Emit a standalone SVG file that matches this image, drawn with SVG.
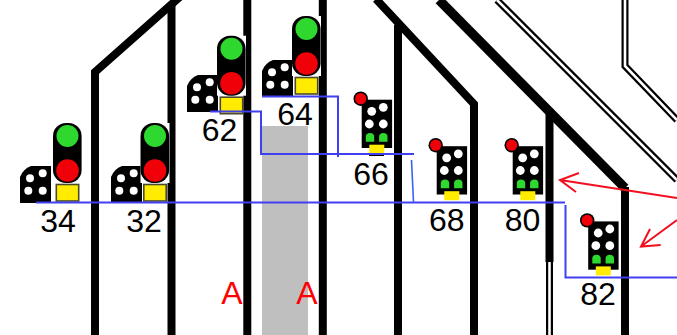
<svg xmlns="http://www.w3.org/2000/svg" width="677" height="335" viewBox="0 0 677 335">
<style>
text{font-family:"Liberation Sans",Arial,sans-serif;font-size:32px;text-anchor:middle;fill:#000}
.a{fill:#f00}
.t{fill:none;stroke:#000;stroke-width:8}
.t2{fill:none;stroke:#000;stroke-width:9.5}
.dbl{fill:none;stroke:#000;stroke-width:7}
.dbi{fill:none;stroke:#fff;stroke-width:2.6}
.b{fill:none;stroke:#4040f0;stroke-width:2}
.b2{fill:none;stroke:#3a62f5;stroke-width:1.6}
.r{fill:none;stroke:#f01020;stroke-width:2}
.w{fill:#fff}.g{fill:#2fd82f}.e{fill:#f00008}.y{fill:#ffec00}
</style>
<defs>
<g id="block">
<path d="M20,203V177Q23,169 31,166H51V203Z" fill="#000"/>
<circle class="w" cx="30" cy="178.3" r="4"/><circle class="w" cx="42.7" cy="173.3" r="4"/>
<circle class="w" cx="28.3" cy="190.7" r="4"/><circle class="w" cx="42.7" cy="190.7" r="4"/>
</g>
<g id="head">
<rect x="53" y="123" width="29" height="60" class="w"/>
<rect x="53" y="123" width="28.6" height="60" rx="13" fill="#000"/>
<circle class="g" cx="67.5" cy="136" r="11"/>
<circle class="e" cx="67.5" cy="170.5" r="11.3"/>
<rect x="56.3" y="184.5" width="22.4" height="16.5" class="y" stroke="#4a4a30" stroke-width="1.6"/>
</g>
<g id="mini">
<rect x="361.7" y="99.7" width="30.4" height="48.3" fill="#000"/>
<circle cx="360.7" cy="98.7" r="7.2" fill="#000"/>
<circle class="e" cx="360.7" cy="98.7" r="5.6"/>
<circle class="w" cx="371.7" cy="111.3" r="4.4"/><circle class="w" cx="383.3" cy="107.3" r="4.4"/>
<circle class="w" cx="369.3" cy="124" r="4.4"/><circle class="w" cx="383.3" cy="124" r="4.4"/>
<path class="g" d="M365.8,141.7V136.5Q366,133 370,133Q374,133 374.2,136.5V141.7Z"/>
<path class="g" d="M379.1,141.7V136.5Q379.3,133 383.3,133Q387.3,133 387.5,136.5V141.7Z"/>
<rect x="369.3" y="144.7" width="15" height="9" class="y"/>
</g>
</defs>
<g id="zone"><rect x="262" y="126" width="46" height="209" fill="#bfbfbf"/></g>
<g id="connectors">
<path class="t" d="M95,335V72L182,-5"/>
<path class="t" d="M171.5,335V5"/>
<path class="t" d="M247.3,335V0"/>
<path class="t" d="M322.8,335V0"/>
<path class="t" d="M398,335V25"/>
<path class="t" d="M376,-1L474,104V335"/>
<path class="t" d="M549.5,262V112"/>
<path class="t2" d="M439,0L625,188"/>
<path class="t" d="M625,335V187"/>
<path class="dbl" d="M549.5,262V335"/><path class="dbi" d="M549.5,262V335"/>
<path class="dbl" d="M497,0L677,180"/><path class="dbi" d="M497,0L677,180"/>
<path class="dbl" d="M625,0V66L677,120"/><path class="dbi" d="M625,0V66L677,120"/>
</g>
<g id="s34"><use href="#block"/><use href="#head"/></g>
<g id="s32"><use href="#block" x="91"/><use href="#head" x="87.5"/></g>
<g id="s62"><use href="#block" x="167" y="-91"/><use href="#head" x="164" y="-87.3"/></g>
<g id="s64"><use href="#block" x="242" y="-106"/><use href="#head" x="239" y="-107"/></g>
<g id="s66"><rect x="369" y="153" width="15" height="3" fill="#000"/><use href="#mini"/></g>
<g id="s68"><use href="#mini" x="75" y="46.5"/></g>
<g id="s80"><use href="#mini" x="151" y="46.5"/></g>
<g id="s82"><use href="#mini" x="226.5" y="121.7"/></g>
<g id="wires">
<path class="b" d="M36,202.5H565"/>
<path class="b" d="M565.5,205V277.5H677"/>
<path class="b" d="M210,111.5H261V154H414"/>
<path class="b" d="M262,96.5H338V157"/>
<path class="b2" d="M411.5,160L413.5,202"/>
</g>
<g id="labels">
<text x="58" y="232">34</text>
<text x="144" y="232">32</text>
<text x="219.5" y="140.5">62</text>
<text x="295" y="125">64</text>
<text x="371" y="185">66</text>
<text x="446.7" y="231">68</text>
<text x="522.5" y="231">80</text>
<text x="598" y="305">82</text>
<text class="a" x="232" y="304">A</text>
<text class="a" x="307" y="304">A</text>
</g>
<g id="arrows">
<path class="r" d="M677,198L560,180M579,173L560,180L576,192"/>
<path class="r" d="M677,220L641,246.5M650,229L641,246.5L660.7,245"/>
</g>
</svg>
